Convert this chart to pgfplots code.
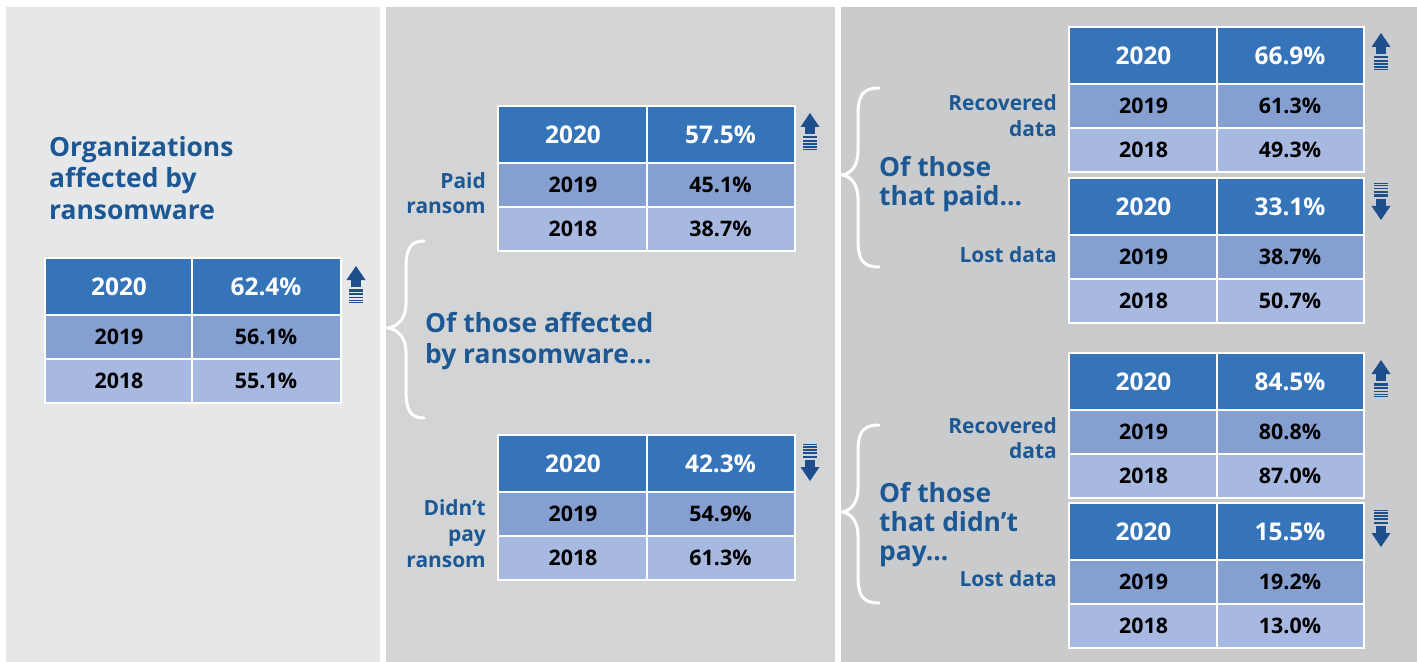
\documentclass[border=0pt]{standalone}
\usepackage{pgfplots}
\pgfplotsset{compat=1.18}
\usepackage{fontspec}
\setmainfont{Open Sans}

\definecolor{pA}{RGB}{230,231,233}
\definecolor{pB}{RGB}{211,212,214}
\definecolor{pC}{RGB}{202,203,205}
\definecolor{cH}{RGB}{54,116,185}
\definecolor{c19}{RGB}{133,159,208}
\definecolor{c18}{RGB}{168,185,225}
\definecolor{ttl}{RGB}{28,88,148}
\definecolor{arr}{RGB}{31,78,140}

\tikzset{
  hd/.style={inner sep=0pt, text=white, font=\fontsize{24.5}{28}\selectfont\bfseries},
  bd/.style={inner sep=0pt, text=black, font=\fontsize{21.5}{25}\selectfont\bfseries},
  big/.style={inner sep=0pt, text=ttl, font=\fontsize{26.5}{30}\selectfont\bfseries},
  lab/.style={inner sep=0pt, text=ttl, font=\fontsize{21}{25}\selectfont\bfseries},
}

% table: xl, xmid, xr, ytop, v2020, v2019, v2018
\newcommand{\tbl}[7]{%
  \fill[white] (axis cs:{#1-2},{#4-2}) rectangle (axis cs:{#3+2},{#4+145});
  \fill[cH] (axis cs:#1,#4) rectangle (axis cs:{#2-1},{#4+55});
  \fill[cH] (axis cs:{#2+1},#4) rectangle (axis cs:#3,{#4+55});
  \fill[c19] (axis cs:#1,{#4+57}) rectangle (axis cs:{#2-1},{#4+99});
  \fill[c19] (axis cs:{#2+1},{#4+57}) rectangle (axis cs:#3,{#4+99});
  \fill[c18] (axis cs:#1,{#4+101}) rectangle (axis cs:{#2-1},{#4+143});
  \fill[c18] (axis cs:{#2+1},{#4+101}) rectangle (axis cs:#3,{#4+143});
  \node[hd] at (axis cs:{(#1+#2)/2},{#4+28}) {2020};
  \node[hd] at (axis cs:{(#2+#3)/2},{#4+28}) {#5\%};
  \node[bd] at (axis cs:{(#1+#2)/2},{#4+78}) {2019};
  \node[bd] at (axis cs:{(#2+#3)/2},{#4+78}) {#6\%};
  \node[bd] at (axis cs:{(#1+#2)/2},{#4+122}) {2018};
  \node[bd] at (axis cs:{(#2+#3)/2},{#4+122}) {#7\%};
}

% arrow: x, ytip, direction (1 up, -1 down)
\newcommand{\arrow}[3]{%
  \fill[arr] (axis cs:#1,#2) -- (axis cs:{#1-9.5},{#2+#3*14}) -- (axis cs:{#1+9.5},{#2+#3*14}) -- cycle;
  \fill[arr] (axis cs:{#1-5},{#2+#3*13.5}) rectangle (axis cs:{#1+5},{#2+#3*21});
  \fill[arr] (axis cs:{#1-7},{#2+#3*23}) rectangle (axis cs:{#1+7},{#2+#3*25.5});
  \fill[arr] (axis cs:{#1-7},{#2+#3*27}) rectangle (axis cs:{#1+7},{#2+#3*29});
  \fill[arr] (axis cs:{#1-7},{#2+#3*30.5}) rectangle (axis cs:{#1+7},{#2+#3*32});
  \fill[arr] (axis cs:{#1-7},{#2+#3*33.5}) rectangle (axis cs:{#1+7},{#2+#3*34.7});
  \fill[arr] (axis cs:{#1-7},{#2+#3*36}) rectangle (axis cs:{#1+7},{#2+#3*37});
}

% brace: xend, xmid, xtip, ytop, ymid, ybot
\newcommand{\brc}[6]{%
  \draw[white, line width=3bp, line cap=round]
    (axis cs:#1,#4) .. controls (axis cs:{#2+4},#4) and (axis cs:#2,{#4+8}) .. (axis cs:#2,{#4+28})
    -- (axis cs:#2,{#5-24}) .. controls (axis cs:#2,{#5-8}) and (axis cs:{#3+8},{#5-1}) .. (axis cs:#3,#5)
    .. controls (axis cs:{#3+8},{#5+1}) and (axis cs:#2,{#5+8}) .. (axis cs:#2,{#5+24})
    -- (axis cs:#2,{#6-28}) .. controls (axis cs:#2,{#6-8}) and (axis cs:{#2+4},#6) .. (axis cs:#1,#6);
}

\begin{document}
\begin{tikzpicture}
\begin{axis}[x=1bp, y=1bp, xmin=0, xmax=1417, ymin=0, ymax=662,
  y dir=reverse, hide axis, clip=false, scale only axis]
% panels
\fill[white] (axis cs:0,0) rectangle (axis cs:1417,662);
\fill[pA] (axis cs:6,7) rectangle (axis cs:380,662);
\fill[pB] (axis cs:386,7) rectangle (axis cs:835,662);
\fill[pC] (axis cs:841,7) rectangle (axis cs:1417,662);

% panel 1
\node[big, anchor=base west] at (axis cs:49,157) {Organizations};
\node[big, anchor=base west] at (axis cs:49,188) {affected by};
\node[big, anchor=base west] at (axis cs:49,220) {ransomware};
\tbl{46}{192}{340}{259}{62.4}{56.1}{55.1}
\arrow{356}{266}{1}

% panel 2
\brc{424}{406}{388}{241}{328}{418}
\node[big, anchor=base west] at (axis cs:425,332) {Of those affected};
\node[big, anchor=base west] at (axis cs:425,363) {by ransomware...};
\tbl{499}{647}{794}{107}{57.5}{45.1}{38.7}
\arrow{810}{113}{1}
\node[lab, anchor=base east] at (axis cs:486,189) {Paid};
\node[lab, anchor=base east] at (axis cs:486,214) {ransom};
\tbl{499}{647}{794}{436}{42.3}{54.9}{61.3}
\arrow{810}{481}{-1}
\node[lab, anchor=base east] at (axis cs:486,515) {Didn’t};
\node[lab, anchor=base east] at (axis cs:486,541) {pay};
\node[lab, anchor=base east] at (axis cs:486,567) {ransom};

% panel 3
\brc{879}{858}{842}{88}{175}{267}
\node[big, anchor=base west] at (axis cs:879,177) {Of those};
\node[big, anchor=base west] at (axis cs:879,206) {that paid...};
\tbl{1070}{1217}{1363}{28}{66.9}{61.3}{49.3}
\arrow{1381}{33}{1}
\node[lab, anchor=base east] at (axis cs:1057,111) {Recovered};
\node[lab, anchor=base east] at (axis cs:1057,137) {data};
\tbl{1070}{1217}{1363}{179}{33.1}{38.7}{50.7}
\arrow{1381}{220}{-1}
\node[lab, anchor=base east] at (axis cs:1057,263) {Lost data};

\brc{879}{858}{842}{425}{512}{603}
\node[big, anchor=base west] at (axis cs:879,502) {Of those};
\node[big, anchor=base west] at (axis cs:879,531) {that didn’t};
\node[big, anchor=base west] at (axis cs:879,560) {pay...};
\tbl{1070}{1217}{1363}{354}{84.5}{80.8}{87.0}
\arrow{1381}{360}{1}
\node[lab, anchor=base east] at (axis cs:1057,433) {Recovered};
\node[lab, anchor=base east] at (axis cs:1057,458) {data};
\tbl{1070}{1217}{1363}{504}{15.5}{19.2}{13.0}
\arrow{1381}{547}{-1}
\node[lab, anchor=base east] at (axis cs:1057,586) {Lost data};
\end{axis}
\end{tikzpicture}
\end{document}
